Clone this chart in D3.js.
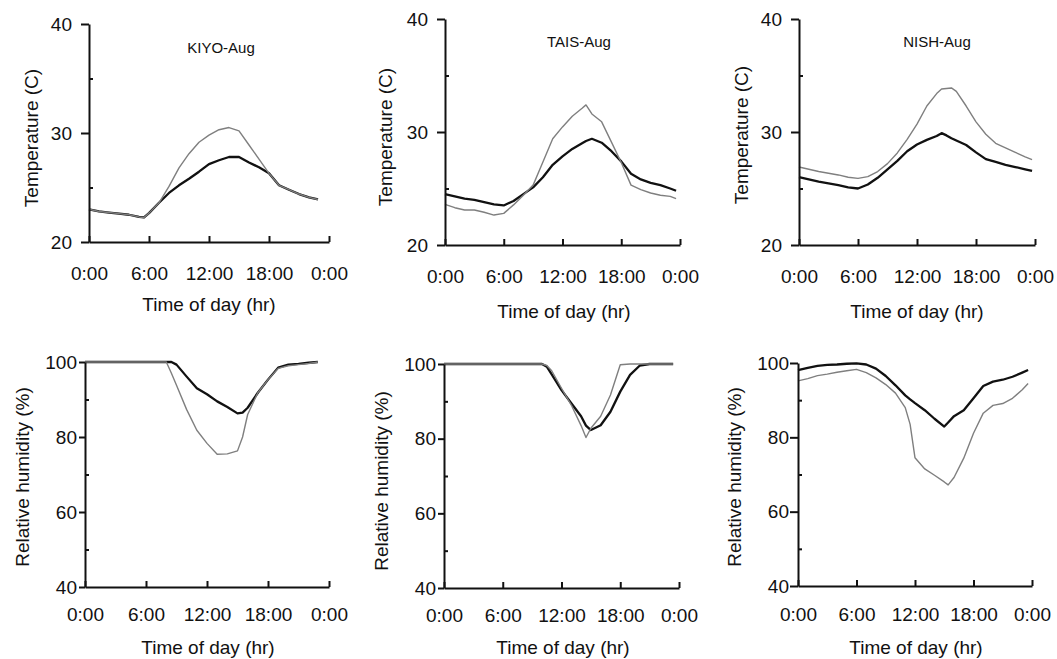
<!DOCTYPE html>
<html lang="en">
<head>
<meta charset="UTF-8" />
<title>Diurnal temperature and humidity</title>
<style>
  body { margin: 0; background: #fff; }
  svg text { font-family: "Liberation Sans", Arial, sans-serif; fill: #111; }
  .axis path, .axis line { stroke: #111; stroke-width: 2; }
  .axis text { font-size: 19px; }
  .minor path { display: none; }
  .site { font-size: 15px; }
  .atitle { font-size: 19px; }
</style>
<script src="https://cdn.jsdelivr.net/npm/d3@7"></script>
</head>
<body>
<div id="chart"></div>
<script>
// ---- data ----
const timeTicks = [0, 6, 12, 18, 24];
const timeLabels = ["0:00", "6:00", "12:00", "18:00", "0:00"];
const tempMajor = [20, 30, 40];
const tempMinor = [25, 35];
const rhMajor = [40, 60, 80, 100];
const rhMinor = [50, 70, 90];
const siteNames = ["KIYO-Aug", "TAIS-Aug", "NISH-Aug"];

// KIYO temperature
const kiyoTempHours = [0,1,2,3,4,5,5.5,6,7,8,9,10,11,12,13,14,15,16,17,18,19,20,21,22,22.9];
const kiyoTempBlack = [23.0,22.8,22.7,22.6,22.5,22.3,22.25,22.65,23.6,24.5,25.2,25.8,26.45,27.15,27.5,27.8,27.8,27.3,26.85,26.3,25.2,24.8,24.4,24.1,23.9];
const kiyoTempGray  = [23.0,22.8,22.7,22.6,22.5,22.3,22.25,22.65,23.6,25.1,26.8,28.1,29.15,29.8,30.3,30.5,30.2,28.9,27.6,26.3,25.2,24.8,24.4,24.1,23.9];

// TAIS temperature
const taisTempHours = [0,1,2,3,4,5,6,7,8,9,10,11,12,13,14,14.4,15,16,17,18,19,20,21,22,23,23.6];
const taisTempBlack = [24.5,24.3,24.1,24.0,23.8,23.6,23.5,23.9,24.5,25.1,26.0,27.1,27.85,28.5,29.0,29.2,29.4,29.05,28.3,27.4,26.3,25.8,25.5,25.3,25.0,24.8];
const taisTempGray  = [23.6,23.3,23.1,23.1,22.9,22.65,22.8,23.55,24.4,25.3,27.35,29.4,30.45,31.4,32.1,32.4,31.6,30.9,29.1,27.3,25.3,24.9,24.6,24.4,24.3,24.1];

// NISH temperature
const nishTempHours = [0,1,2,3,4,5,6,7,8,9,10,11,12,13,14,14.5,15,15.5,16,17,18,19,20,21,22,23,23.7];
const nishTempBlack = [26.0,25.8,25.6,25.45,25.3,25.1,25.0,25.35,25.95,26.7,27.45,28.3,28.9,29.3,29.65,29.9,29.7,29.45,29.25,28.85,28.2,27.6,27.35,27.1,26.9,26.7,26.55];
const nishTempGray  = [26.9,26.7,26.5,26.35,26.2,26.0,25.9,26.05,26.5,27.2,28.15,29.35,30.7,32.3,33.4,33.8,33.85,33.9,33.6,32.3,30.9,29.8,29.0,28.6,28.2,27.8,27.55];

// KIYO relative humidity
const kiyoRhHours = [0,1,2,3,4,5,6,7,8,8.5,9,10,11,12,13,14,15,15.5,16,17,18,19,20,21,22,22.9];
const kiyoRhBlack = [100,100,100,100,100,100,100,100,100,100,99.3,96.1,93.0,91.4,89.5,88.0,86.3,86.5,87.8,91.8,95.3,98.5,99.3,99.5,99.8,100];
const kiyoRhGray  = [100,100,100,100,100,100,100,100,100,97.0,93.8,87.3,81.8,78.3,75.4,75.5,76.3,80.0,86.0,91.8,95.3,98.3,99.0,99.3,99.6,100];

// TAIS relative humidity
const taisRhHours = [0,2,4,6,8,10,10.5,11,12,13,14,14.5,15,16,17,18,19,20,21,22,23,23.4];
const taisRhBlack = [100,100,100,100,100,100,99.3,97.2,93.0,89.5,86.0,83.5,82.3,83.6,87.2,92.6,97.1,99.6,100,100,100,100];
const taisRhGray  = [100,100,100,100,100,100,99.6,98.2,93.5,89.0,83.5,80.3,82.8,86.0,91.7,99.8,100,100,100,100,100,100];

// NISH relative humidity
const nishRhHours = [0,1,2,3,4,5,6,7,8,9,10,11,11.5,12,13,14,15,15.4,16,17,18,19,20,21,22,23,23.6];
const nishRhBlack = [98.1,98.7,99.2,99.5,99.6,99.8,99.9,99.6,98.5,96.5,94.0,91.3,90.2,89.2,87.3,85.0,82.9,84.0,85.7,87.3,90.5,93.8,95.0,95.5,96.3,97.4,98.1];
const nishRhGray  = [95.2,95.8,96.6,97.0,97.5,97.9,98.3,97.4,96.0,94.2,91.9,88.0,83.5,74.5,71.5,69.8,68.0,67.2,69.2,74.4,81.1,86.5,88.6,89.1,90.5,92.8,94.5];

// ---- layout ----
const width = 1057, height = 659;
const panels = [
  {x0: 89, x1: 329, yTop: 24, yBot: 242, dom: [20, 40], major: tempMajor, minor: tempMinor, tick: 8, pad: 9, xpad: 25,
   title: siteNames[0], tx: 221, ty: 53, ytitle: "Temperature (C)", ytx: 31, yty: 138, xtx: 209, xty: 311,
   hours: kiyoTempHours, black: kiyoTempBlack, gray: kiyoTempGray},
  {x0: 445, x1: 680, yTop: 19, yBot: 245, dom: [20, 40], major: tempMajor, minor: tempMinor, tick: 8, pad: 9, xpad: 25,
   title: siteNames[1], tx: 579, ty: 47, ytitle: "Temperature (C)", ytx: 385, yty: 137, xtx: 564, xty: 318,
   hours: taisTempHours, black: taisTempBlack, gray: taisTempGray},
  {x0: 799, x1: 1035, yTop: 19, yBot: 245, dom: [20, 40], major: tempMajor, minor: tempMinor, tick: 8, pad: 9, xpad: 25,
   title: siteNames[2], tx: 937, ty: 47, ytitle: "Temperature (C)", ytx: 741, yty: 135, xtx: 917, xty: 318,
   hours: nishTempHours, black: nishTempBlack, gray: nishTempGray},
  {x0: 85, x1: 329, yTop: 362, yBot: 587, dom: [40, 100], major: rhMajor, minor: rhMinor, tick: 6, pad: 2, xpad: 21,
   title: null, ytitle: "Relative humidity (%)", ytx: 22, yty: 477, xtx: 208, xty: 654,
   hours: kiyoRhHours, black: kiyoRhBlack, gray: kiyoRhGray},
  {x0: 444, x1: 679, yTop: 364, yBot: 588, dom: [40, 100], major: rhMajor, minor: rhMinor, tick: 6, pad: 2, xpad: 21,
   title: null, ytitle: "Relative humidity (%)", ytx: 381, yty: 481, xtx: 563, xty: 654,
   hours: taisRhHours, black: taisRhBlack, gray: taisRhGray},
  {x0: 798, x1: 1032, yTop: 363, yBot: 586, dom: [40, 100], major: rhMajor, minor: rhMinor, tick: 8, pad: 1, xpad: 22,
   title: null, ytitle: "Relative humidity (%)", ytx: 734, yty: 477, xtx: 916, xty: 654,
   hours: nishRhHours, black: nishRhBlack, gray: nishRhGray}
];

const svg = d3.select("#chart").append("svg")
  .attr("width", width)
  .attr("height", height);

panels.forEach(p => {
  const x = d3.scaleLinear().domain([0, 24]).range([p.x0, p.x1]);
  const y = d3.scaleLinear().domain(p.dom).range([p.yBot, p.yTop]);
  const g = svg.append("g");

  // series: black first, gray on top
  const line = d3.line()
    .x((d, i) => x(p.hours[i]))
    .y(d => y(d));
  g.append("path").datum(p.black)
    .attr("d", line)
    .attr("fill", "none")
    .attr("stroke", "#111")
    .attr("stroke-width", 2.3)
    .attr("stroke-linejoin", "round");
  g.append("path").datum(p.gray)
    .attr("d", line)
    .attr("fill", "none")
    .attr("stroke", "#7f7f7f")
    .attr("stroke-width", 1.4)
    .attr("stroke-linejoin", "round");

  // y axis, major ticks outward
  g.append("g").attr("class", "axis")
    .attr("transform", `translate(${p.x0},0)`)
    .call(d3.axisLeft(y).tickValues(p.major).tickSizeInner(p.tick).tickSizeOuter(0).tickPadding(p.pad).tickFormat(d3.format("d")));
  // minor ticks inward
  g.append("g").attr("class", "axis minor")
    .attr("transform", `translate(${p.x0},0)`)
    .call(d3.axisRight(y).tickValues(p.minor).tickSize(4).tickFormat(""));

  // x axis, ticks pointing up
  g.append("g").attr("class", "axis")
    .attr("transform", `translate(0,${p.yBot})`)
    .call(d3.axisBottom(x).tickValues(timeTicks).tickSizeInner(-6).tickSizeOuter(0).tickPadding(p.xpad)
      .tickFormat((d, i) => timeLabels[i]));

  if (p.title) {
    g.append("text").attr("class", "site")
      .attr("x", p.tx).attr("y", p.ty)
      .attr("text-anchor", "middle")
      .text(p.title);
  }
  g.append("text").attr("class", "atitle")
    .attr("transform", `translate(${p.ytx},${p.yty}) rotate(-90)`)
    .attr("text-anchor", "middle")
    .attr("dy", "0.35em")
    .text(p.ytitle);
  g.append("text").attr("class", "atitle")
    .attr("x", p.xtx).attr("y", p.xty)
    .attr("text-anchor", "middle")
    .text("Time of day (hr)");
});
</script>
</body>
</html>
